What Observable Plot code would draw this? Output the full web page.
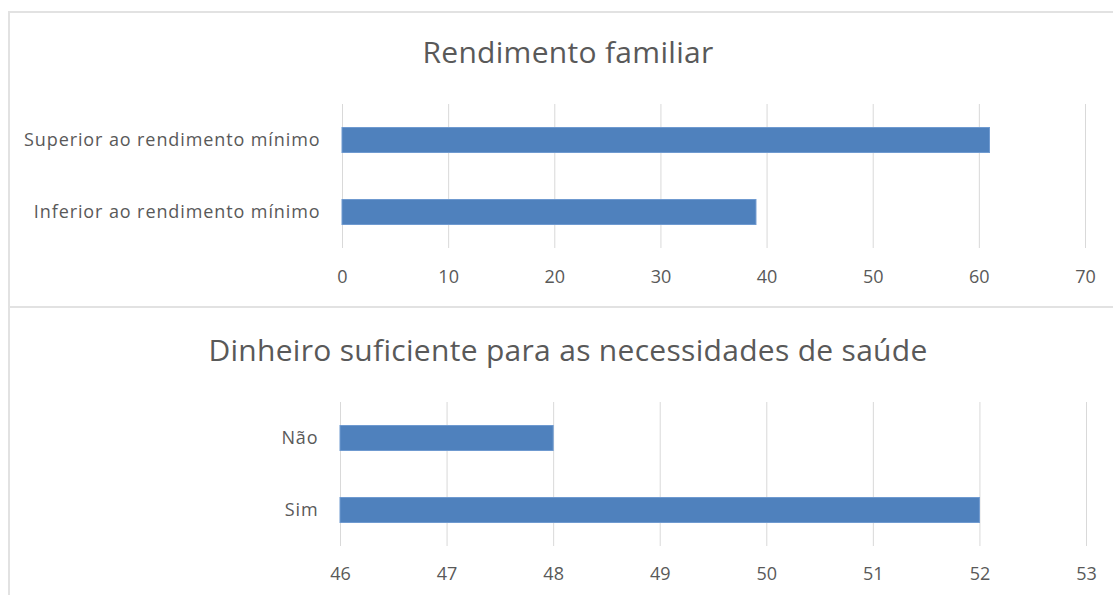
<!DOCTYPE html>
<html>
<head>
<meta charset="utf-8">
<script src="https://cdn.jsdelivr.net/npm/d3@7"></script>
<script src="https://cdn.jsdelivr.net/npm/@observablehq/plot@0.6"></script>
<style>
  html, body { margin: 0; padding: 0; background: #fff; width: 1113px; height: 595px; overflow: hidden; }
  .panel { position: absolute; left: 8px; width: 1120px; box-sizing: border-box; border: 2px solid #e2e2e2; background: #fff; }
  .title { position: absolute; left: 0; width: 1116px; text-align: center; font-family: "Open Sans", sans-serif; font-size: 30px; line-height: 40px; letter-spacing: 0.3px; color: #595959; font-weight: 400; }
  .chart { position: absolute; left: 0; }
  .chart svg { display: block; }
  .chart svg g[aria-label="y-axis tick label"] text { letter-spacing: 0.9px; }
</style>
</head>
<body>
<div class="panel" id="p1" style="top:11px;height:298px;">
  <div class="title" style="top:19px;">Rendimento familiar</div>
  <div class="chart" id="c1" style="top:0px;"></div>
</div>
<div class="panel" id="p2" style="top:306px;height:320px;">
  <div class="title" style="top:22px;">Dinheiro suficiente para as necessidades de saúde</div>
  <div class="chart" id="c2" style="top:0px;"></div>
</div>
<script>
// Chart 1: Rendimento familiar
const cats1 = ["Superior ao rendimento mínimo", "Inferior ao rendimento mínimo"];
const vals1 = [61, 39];
const ticks1 = [0, 10, 20, 30, 40, 50, 60, 70];

// Chart 2: Dinheiro suficiente para as necessidades de saúde
const cats2 = ["Não", "Sim"];
const vals2 = [48, 52];
const ticks2 = [46, 47, 48, 49, 50, 51, 52, 53];

function makeChart(cats, vals, ticks, opts) {
  const data = cats.map((c, i) => ({cat: c, v: vals[i]}));
  return Plot.plot({
    width: 1116,
    height: opts.height,
    marginLeft: opts.marginLeft,
    marginRight: opts.marginRight,
    marginTop: opts.marginTop,
    marginBottom: opts.marginBottom,
    style: {fontFamily: "Open Sans, sans-serif", fontSize: "18px", color: "#595959", background: "transparent"},
    x: {domain: [ticks[0], ticks[ticks.length - 1]], label: null},
    y: {domain: cats, label: null, padding: 0},
    marks: [
      Plot.ruleX(ticks, {stroke: "#d9d9d9", strokeWidth: 1, strokeOpacity: 1}),
      Plot.barX(data, {x1: ticks[0], x2: "v", y: "cat", fill: "#4f81bd", stroke: "#6f9ad0", strokeWidth: 1, insetTop: 23.5, insetBottom: 23.5}),
      Plot.axisX({ticks: ticks, tickSize: 0, tickPadding: opts.tickPad, tickFormat: d => String(d), fontSize: 18, fill: "#595959", label: null}),
      Plot.axisY({tickSize: 0, tickPadding: 22, fontSize: 18, fill: "#595959", label: null})
    ]
  });
}

document.getElementById("c1").append(makeChart(cats1, vals1, ticks1, {
  height: 294, marginTop: 91, marginBottom: 59, marginLeft: 332, marginRight: 41, tickPad: 22
}));
document.getElementById("c2").append(makeChart(cats2, vals2, ticks2, {
  height: 290, marginTop: 94, marginBottom: 52, marginLeft: 330, marginRight: 40, tickPad: 21
}));
</script>
</body>
</html>
